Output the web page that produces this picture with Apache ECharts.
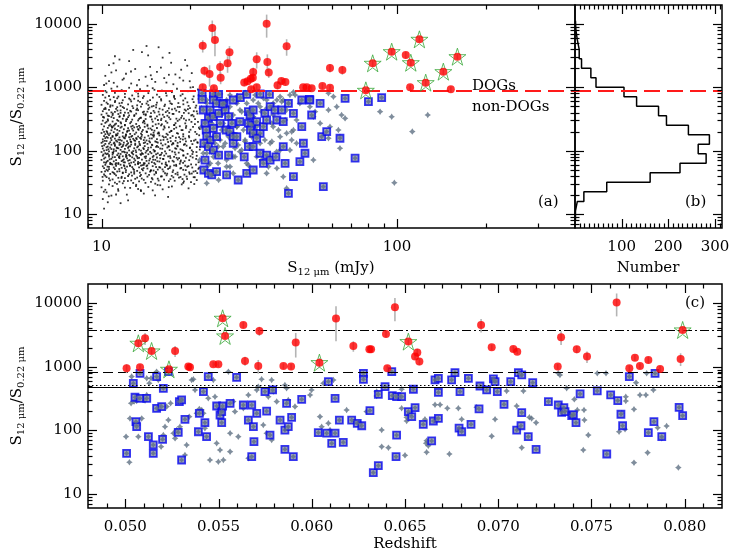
<!DOCTYPE html>
<html>
<head>
<meta charset="utf-8">
<script src="https://cdn.jsdelivr.net/npm/echarts@6/dist/echarts.min.js"></script>
<style>
html, body { margin: 0; padding: 0; background: #fff; }
#main { width: 736px; height: 552px; }
</style>
</head>
<body>
<div id="main"></div>
<script>
// faint sample (black dots), [S12 mJy, ratio]
const faintDots = [
[10.2,12.1],[11.6,14.8],[10.5,15.3],
[10.1,17.2],[10.8,19.5],[12.3,16.4],[13.9,21.0],[11.2,20.3],[16.8,18.6],[10.4,21.9],
[10.3,24.1],[10.9,27.6],[11.4,23.2],[11.8,30.5],[12.5,25.8],[13.1,28.9],[13.6,22.9],[14.4,26.7],[15.2,30.1],[16.1,24.5],[17.3,27.2],[18.9,31.0],[10.6,29.3],[12.0,26.1],[14.9,23.6],[19.7,25.4],[11.1,31.3],[13.3,24.8],[15.8,28.4],[20.6,29.7],[10.0,26.4],[12.8,30.9],
[10.1,33.5],[10.4,38.2],[10.7,42.9],[10.9,35.1],[11.2,40.6],[11.5,32.4],[11.8,44.1],[12.0,36.7],[12.3,39.8],[12.6,33.9],[12.9,43.2],[13.2,37.5],[13.6,41.4],[13.9,34.6],[14.3,38.9],[14.7,32.2],[15.1,42.0],[15.5,36.1],[16.0,39.3],[16.4,44.0],[16.9,33.0],[17.5,37.9],[18.1,41.7],[18.8,35.6],[19.4,39.0],[20.2,43.5],[21.0,34.3],[10.3,40.1],[10.6,36.4],[11.0,44.5],[11.4,37.2],[11.9,33.1],[12.4,42.3],[13.0,35.9],[13.5,39.6],[14.1,43.8],[14.8,36.9],[15.6,33.7],[16.6,40.8],[17.8,43.0],[19.0,32.7],[20.5,38.1],[10.2,42.0],[11.7,38.6],[13.4,32.8],[15.3,44.3],[17.1,35.4],[18.5,38.4],
[10.0,46.2],[10.2,52.8],[10.3,59.7],[10.5,48.1],[10.6,55.3],[10.8,62.0],[10.9,45.7],[11.1,50.9],[11.2,57.8],[11.4,61.5],[11.5,47.3],[11.7,53.6],[11.9,58.9],[12.1,49.4],[12.2,56.0],[12.4,62.6],[12.6,45.3],[12.8,51.7],[13.0,60.3],[13.2,47.9],[13.4,54.5],[13.6,58.1],[13.8,49.0],[14.0,62.9],[14.3,52.2],[14.6,46.5],[14.9,56.9],[15.2,61.0],[15.5,50.3],[15.8,54.0],[16.2,47.0],[16.6,59.2],[17.0,53.1],[17.4,45.9],[17.9,57.3],[18.4,62.2],[18.9,49.8],[19.5,55.6],[20.1,60.7],[20.8,47.6],[21.4,53.9],[10.1,56.6],[10.4,49.9],[10.7,61.2],[11.0,54.2],[11.3,46.8],[11.6,60.0],[12.0,52.5],[12.5,58.4],[12.9,46.0],[13.3,61.8],[13.7,51.2],[14.2,57.0],[14.7,49.2],[15.3,55.1],[16.0,62.4],[16.8,51.5],[17.6,58.7],[18.6,53.3],[19.8,45.5],[10.6,51.1],[11.8,45.1],[12.7,55.0],[13.9,59.8],[15.0,48.5],[16.4,54.8],[19.2,58.0],
[10.0,71.5],[10.1,83.2],[10.2,65.4],[10.3,77.9],[10.4,88.1],[10.5,69.0],[10.6,80.6],[10.7,64.2],[10.8,74.3],[10.9,86.7],[11.0,67.8],[11.1,79.1],[11.2,71.0],[11.3,84.9],[11.4,63.9],[11.5,76.2],[11.6,88.6],[11.7,68.4],[11.8,81.5],[11.9,72.8],[12.0,65.1],[12.1,86.0],[12.2,75.4],[12.3,69.7],[12.5,82.3],[12.6,64.6],[12.7,78.5],[12.8,87.4],[13.0,70.2],[13.1,83.8],[13.3,66.3],[13.4,76.8],[13.6,85.5],[13.7,72.1],[13.9,63.5],[14.0,80.0],[14.2,68.9],[14.4,87.9],[14.6,74.9],[14.8,65.8],[15.0,82.8],[15.2,71.6],[15.4,78.0],[15.7,67.2],[15.9,86.3],[16.2,73.5],[16.5,64.9],[16.8,81.1],[17.1,76.6],[17.4,69.3],[17.8,87.0],[18.1,72.5],[18.5,66.7],[18.9,84.0],[19.3,77.3],[19.8,70.8],[20.3,88.4],[20.9,74.0],[21.3,65.6],[10.2,74.6],[10.4,67.0],[10.6,85.1],[10.9,78.8],[11.2,63.3],[11.5,82.0],[11.8,70.5],[12.1,79.7],[12.4,85.8],[12.9,74.7],[13.2,80.3],[13.5,64.0],[13.8,88.8],[14.1,76.0],[14.5,70.0],[14.9,79.4],[15.3,87.6],[15.8,75.7],[16.3,83.5],[16.9,67.6],[17.6,79.9],[18.3,76.3],[19.1,68.1],[20.0,81.7],[21.0,83.0],
[10.0,95.2],[10.1,108],[10.2,121],[10.3,91.0],[10.4,102],[10.5,116],[10.6,97.1],[10.7,112],[10.8,124],[10.9,93.4],[11.0,105],[11.1,119],[11.2,99.6],[11.3,110],[11.4,90.2],[11.5,123],[11.6,103],[11.7,114],[11.9,96.4],[12.0,107],[12.1,120],[12.2,92.6],[12.4,101],[12.5,117],[12.6,125],[12.8,98.3],[12.9,109],[13.1,94.7],[13.2,113],[13.4,104],[13.5,122],[13.7,91.7],[13.9,106],[14.0,118],[14.2,99.0],[14.4,111],[14.6,95.8],[14.8,124],[15.0,103],[15.3,115],[15.5,90.6],[15.8,108],[16.1,121],[16.4,97.6],[16.7,112],[17.0,102],[17.3,125],[17.7,93.9],[18.1,117],[18.5,105],[18.9,99.3],[19.4,120],[19.9,110],[20.4,96.0],[21.0,114],[21.5,104],[10.2,100],[10.5,89.8],[10.8,106],[11.1,125],[11.4,109],[11.8,118],[12.3,111],[12.7,91.2],[13.0,123],[13.6,100],[14.1,93.0],[14.7,113],[15.4,119],[16.0,92.3],[16.9,116],[17.9,107],[19.0,124],[20.2,101],[10.4,113],[11.0,97.8],[12.0,94.0],[13.3,117],[15.1,96.8],
[10.0,133],[10.1,151],[10.2,170],[10.3,128],[10.4,142],[10.5,160],[10.6,176],[10.7,136],[10.8,147],[10.9,165],[11.0,130],[11.1,155],[11.2,173],[11.3,139],[11.4,149],[11.5,162],[11.6,127],[11.7,144],[11.8,168],[11.9,134],[12.0,157],[12.1,175],[12.2,141],[12.3,131],[12.4,163],[12.5,150],[12.6,137],[12.7,171],[12.9,146],[13.0,129],[13.1,158],[13.3,167],[13.4,138],[13.6,153],[13.7,177],[13.9,132],[14.0,161],[14.2,145],[14.4,172],[14.6,135],[14.8,156],[15.0,166],[15.2,140],[15.4,152],[15.7,174],[15.9,130],[16.2,148],[16.5,164],[16.8,137],[17.1,159],[17.4,170],[17.8,143],[18.1,133],[18.5,154],[18.9,168],[19.3,140],[19.8,162],[20.3,127],[20.8,149],[21.4,175],[10.1,139],[10.3,158],[10.6,129],[10.9,171],[11.2,144],[11.5,133],[11.9,160],[12.2,126],[12.6,166],[13.0,143],[13.5,159],[13.9,147],[14.3,128],[14.9,176],[15.5,134],[16.1,169],[16.7,151],[17.5,129],[18.3,164],[19.2,155],[20.1,142],[21.1,136],[10.4,165],[11.3,176],[12.8,154],[14.5,141],
[10.0,190],[10.1,215],[10.2,241],[10.3,182],[10.4,203],[10.5,229],[10.6,248],[10.7,187],[10.8,210],[10.9,236],[11.0,196],[11.1,222],[11.2,180],[11.4,245],[11.5,205],[11.6,231],[11.8,192],[11.9,218],[12.0,250],[12.2,199],[12.3,226],[12.5,184],[12.6,240],[12.8,208],[12.9,233],[13.1,193],[13.3,219],[13.4,246],[13.6,186],[13.8,212],[14.0,238],[14.2,201],[14.4,224],[14.7,181],[14.9,244],[15.1,207],[15.4,228],[15.6,194],[15.9,251],[16.2,216],[16.6,185],[16.9,234],[17.2,204],[17.6,221],[18.0,189],[18.4,243],[18.8,211],[19.3,230],[19.8,197],[20.4,238],[21.0,183],[21.5,220],[10.2,198],[10.5,185],[10.8,244],[11.3,213],[11.7,239],[12.1,181],[12.7,222],[13.2,238],[13.7,200],[14.3,246],[14.8,213],[15.5,187],[16.3,242],[17.0,196],[17.9,232],[18.9,182],[20.0,214],[11.0,248],[12.4,208],[13.5,230],[15.0,192],
[10.0,262],[10.1,298],[10.2,334],[10.3,275],[10.5,312],[10.6,350],[10.7,258],[10.9,289],[11.0,327],[11.2,268],[11.3,305],[11.5,342],[11.6,281],[11.8,319],[12.0,255],[12.1,293],[12.3,338],[12.5,271],[12.7,309],[12.9,352],[13.1,264],[13.3,300],[13.6,331],[13.8,279],[14.1,316],[14.3,257],[14.6,345],[14.9,287],[15.2,322],[15.6,266],[15.9,303],[16.3,340],[16.7,276],[17.1,314],[17.6,253],[18.1,295],[18.6,330],[19.2,270],[19.8,308],[20.5,348],[21.2,284],[10.4,286],[10.8,340],[11.4,295],[11.9,353],[12.6,285],[13.4,318],[14.0,269],[14.8,311],[15.4,349],[16.5,292],[17.8,272],[19.0,321],[20.7,262],[11.1,259],[12.2,314],[13.9,296],[16.0,261],
[10.0,371],[10.1,420],[10.3,475],[10.4,388],[10.6,441],[10.7,493],[10.9,365],[11.1,410],[11.2,458],[11.4,379],[11.6,432],[11.8,488],[12.0,398],[12.2,449],[12.4,360],[12.6,415],[12.8,470],[13.1,385],[13.3,436],[13.6,497],[13.8,404],[14.1,362],[14.4,455],[14.7,391],[15.0,425],[15.3,482],[15.7,372],[16.1,444],[16.5,406],[16.9,466],[17.4,381],[17.9,430],[18.4,490],[19.0,395],[19.6,452],[20.3,368],[21.0,418],[10.2,452],[10.5,358],[10.8,402],[11.3,486],[11.9,366],[12.5,426],[13.2,463],[13.9,376],[14.8,498],[15.6,412],[16.7,356],[17.7,462],[19.3,428],[20.8,479],[11.6,395],[14.3,413],
[10.0,530],[10.2,612],[10.3,690],[10.5,548],[10.7,640],[10.9,515],[11.1,585],[11.3,672],[11.5,560],[11.8,625],[12.0,702],[12.3,540],[12.6,600],[12.9,660],[13.2,520],[13.5,590],[13.8,680],[14.2,555],[14.6,630],[15.0,508],[15.4,575],[15.9,650],[16.4,535],[17.0,605],[17.6,695],[18.2,565],[18.9,620],[19.7,510],[20.5,585],[21.3,655],[10.4,575],[11.0,700],[11.6,510],[12.4,665],[13.3,615],[14.4,525],[15.7,705],[17.3,545],[19.2,670],
[10.1,760],[10.3,880],[10.6,730],[10.8,955],[11.1,820],[11.4,715],[11.7,905],[12.0,790],[12.4,985],[12.7,745],[13.1,860],[13.5,935],[13.9,725],[14.4,810],[14.9,970],[15.4,770],[16.0,890],[16.6,740],[17.3,840],[18.0,950],[18.8,780],[19.6,870],[20.5,720],[21.2,925],[10.4,835],[11.9,870],[13.3,795],[15.1,915],[17.6,730],[20.0,995],
[10.2,1090],[10.6,1250],[11.3,1030],[11.9,1380],[12.6,1150],[13.4,1310],[14.3,1060],[15.2,1220],[16.3,1400],[17.5,1120],[18.9,1280],[20.4,1010],[11.0,1180],[14.8,1350],
[10.3,1520],[11.2,1850],[12.1,1640],[13.0,1950],[14.1,1470],[15.4,1760],[16.9,1580],[18.6,1900],[20.2,1680],[10.8,1720],
[10.6,2250],[12.4,2600],[14.6,2100],[17.2,2450],[11.5,2750],[19.5,2200],
[11.1,3100],[13.7,3600],[16.1,2950],[12.8,3900],[14.2,4500],[15.6,4300],
[10.05,118],[10.15,87],[10.25,143],[10.35,64],[10.45,196],[10.55,105],[10.65,73],[10.75,158],[10.85,231],[10.95,92],
[11.05,134],[11.15,61],[11.25,112],[11.35,187],[11.45,79],[11.55,148],[11.65,270],[11.75,96],[11.85,124],[11.95,57],
[12.05,168],[12.15,83],[12.25,205],[12.35,116],[12.45,71],[12.55,139],[12.65,94],[12.75,247],[12.85,66],[12.95,182],
[13.05,101],[13.15,152],[13.25,76],[13.35,213],[13.45,128],[13.55,88],[13.65,166],[13.75,59],[13.85,110],[13.95,290],
[14.05,135],[14.15,81],[14.25,197],[14.35,103],[14.45,63],[14.55,156],[14.65,224],[14.75,91],[14.85,122],[14.95,72],
[15.05,175],[15.15,99],[15.25,260],[15.35,137],[15.45,68],[15.55,114],[15.65,188],[15.75,85],[15.85,146],[15.95,320],
[16.05,107],[16.15,74],[16.25,162],[16.35,230],[16.45,126],[16.55,90],[16.65,58],[16.75,178],[16.85,118],[16.95,395],
[17.05,82],[17.15,141],[17.25,206],[17.35,97],[17.45,131],[17.55,67],[17.65,255],[17.75,109],[17.85,160],[17.95,77],
[18.05,120],[18.15,186],[18.25,93],[18.35,310],[18.45,138],[18.55,70],[18.65,211],[18.75,102],[18.85,150],[18.95,84],
[19.15,127],[19.35,245],[19.55,89],[19.75,170],[19.95,112],[20.15,285],[20.35,78],[20.55,144],[20.75,198],[20.95,95],
[21.15,133],[21.35,230],[21.55,115],[10.12,340],[10.32,455],[10.52,298],[10.72,520],[10.92,385],[11.12,610],[11.32,430],
[11.52,350],[11.72,570],[11.92,470],[12.12,310],[12.32,395],[12.52,640],[12.72,505],[12.92,365],[13.12,440],[13.32,720],
[13.52,330],[13.72,545],[13.92,415],[14.12,375],[14.32,600],[14.52,480],[14.72,345],[14.92,690],[15.12,400],[15.32,530],
[15.52,305],[15.72,460],[15.92,620],[16.12,370],[16.32,505],[16.52,810],[16.72,425],[16.92,335],[17.12,560],[17.32,450],
[17.52,380],[17.72,660],[17.92,320],[18.12,490],[18.32,410],[18.52,740],[18.72,355],[18.92,540],[19.12,445],[19.32,300],
[19.52,580],[19.72,390],[19.92,470],[20.12,360],[20.32,650],[20.52,420],[20.72,315],[20.92,515],[21.12,385],[21.32,760],
[10.08,38.5],[10.28,47.2],[10.48,55.8],[10.68,34.0],[10.88,60.4],[11.08,42.7],[11.28,29.8],[11.48,51.3],[11.68,37.0],[11.88,65.5],
[12.08,45.8],[12.28,33.2],[12.48,57.5],[12.68,40.3],[12.88,49.6],[13.08,27.5],[13.28,62.7],[13.48,44.9],[13.68,36.3],[13.88,53.0],
[14.08,31.0],[14.28,58.6],[14.48,41.5],[14.68,48.0],[14.88,35.2],[15.08,63.8],[15.28,46.3],[15.48,28.7],[15.68,55.0],[15.88,39.1],
[16.08,50.6],[16.28,34.8],[16.48,61.0],[16.68,43.3],[16.88,26.5],[17.08,56.2],[17.28,40.0],[17.48,48.9],[17.68,33.5],[17.88,59.8],
[18.08,45.0],[18.28,37.6],[18.48,52.4],[18.68,29.3],[18.88,64.0],[19.08,41.8],[19.28,49.3],[19.48,35.7],[19.68,57.0],[19.88,43.0],
[20.08,31.8],[20.28,54.1],[20.48,46.7],[20.68,38.0],[20.88,60.0],[21.08,44.2],[21.28,51.7],[10.18,22.5],[10.58,19.0],[11.38,24.6],
[12.18,20.2],[13.58,23.8],[15.18,19.6],[10.38,1150],[11.78,1320],[13.18,1080],[14.68,1550],[16.58,1190],[18.38,1420],[19.88,1250],
[12.58,1780],[15.88,2050],[17.78,1600],[10.98,2400],[14.38,3200],[16.98,3500],[19.18,2700]
];

// panel (a): non-DOGs (grey), subset in blue squares, DOGs (red, [S, ratio, error]), starred DOGs
const nonDogsA = [
[22.7,631],[25.2,785],[27.2,757],[28.8,731],[30.6,824],[35.3,671],[40.2,713],[43.4,757],[44.6,840],[58.6,805],
[60.9,713],[50.7,495],[58.6,439],[62.5,495],[64.9,366],[63.3,212],[64.1,166],[64.1,109],[66.7,324],[58.6,157],
[52.1,71],[42.3,25.4],[41.2,38.8],[39.2,52.6],[36.7,55.9],[33.5,80],[29.4,96.4],[27.9,80],[24.9,34.4],[22.7,30.5],
[27.2,55.9],[32.6,344],[30.2,212],[28.7,239],[25.2,147],[25.8,116],[24.2,131],[23.9,80],[26.5,71],[28.3,109],
[30.6,147],[38.1,239],[42.3,188],[44.6,212],[40.2,166],[43.4,102],[45.7,131],[52.1,344],[54.9,270],[59.3,239],
[22.7,91],[23.3,63],[22.1,91],[27.9,366],[29.4,439],[32.6,631],[36.2,631],[39.2,631],[42.3,439],[46.9,559],
[52.8,413],[26.5,55.9],[31.0,63],[36.2,43.8],[40.2,102],[27.9,43.8],[34.4,131],[37.2,131],[45.7,305],[24.5,239],
[25.5,366],[38.1,366],[31.0,559],[41.2,631],[34.4,495],[28.7,559],[27.2,495],
[87.6,413],[95.9,344],[112.6,200],[127,366],[97.9,31.2],
[21.8,467],[22.7,560],[23.3,439],[23.0,344],[22.4,287],[21.8,239],[23.6,270],[24.2,324],[25.2,389],[24.8,560],
[26.2,467],[26.5,631],[25.8,270],[26.9,239],[27.6,305],[25.5,212],[24.2,177],[23.3,139],[22.4,116],[23.6,96],
[24.8,116],[26.2,131],[26.9,166],[27.9,188],[28.7,239],[29.0,123],[29.8,102],[28.3,80],[30.6,139],[32.2,166],
[33.5,239],[32.6,344],[34.8,413],[36.2,467],[38.1,560],[40.7,594],[42.9,560],[45.2,757],[37.7,270],[39.7,212],
[41.8,305],[44.0,199],[35.7,147],[37.7,139],[39.1,96],[44.0,147],[34.8,71],[31.4,59],[24.8,63],[23.0,59],
[21.5,71],[29.0,631],[30.6,805],[33.1,757],[33.9,560],[29.8,413],[31.4,324]
];
const squaresA = [
[21.9,805],[21.9,647],[23.9,785],[24.9,776],[27.9,631],[29.5,688],[31.0,776],[34.4,785],[37.0,776],[47.6,631],
[50.5,647],[54.9,559],[66.7,671],[80.0,594],[88.7,687],
[22.1,439],[23.3,439],[23.0,324],[22.4,270],[23.9,344],[24.9,389],[25.2,270],[23.9,225],[22.6,212],[22.7,170],
[23.3,147],[24.5,166],[26.0,559],[26.2,439],[26.9,344],[27.6,270],[26.4,212],[27.2,200],[27.9,166],[29.4,287],
[31.4,413],[31.8,366],[32.6,439],[31.4,270],[32.2,254],[33.5,287],[31.9,212],[32.6,188],[34.4,188],[35.3,239],
[35.7,389],[36.2,305],[37.2,495],[38.6,439],[39.2,305],[40.7,439],[41.2,287],[42.9,559],[44.6,389],[47.6,239],
[48.2,131],[48.8,91],[50.7,631],[51.4,366],[55.6,166],[57.8,200],[64.1,157],[22.2,131],[23.0,116],[23.9,102],
[24.9,85],[22.4,71],[22.2,49.5],[23.0,43.8],[23.6,41.3],[24.5,46.6],[26.5,41.3],[29.0,34.4],[30.4,80],[31.4,116],
[32.6,116],[33.5,157],[34.4,91],[35.3,63],[36.2,85],[37.2,71],[38.9,80],[41.2,116],[41.8,63],[42.9,21.2],
[44.6,38.8],[46.9,67],[56.3,27],[72.1,76],[26.9,85],[27.9,131],[28.7,166],[31.0,43.8],[32.6,49.5],[23.9,631],
[24.5,559],[25.7,546]
];
const dogsA = [
[22.0,4550,1000],[22.3,1830,300],[23.2,1630,600],[23.7,8670,2700],[24.2,5600,2500],[25.2,2090,500],[25.3,1420,300],
[26.7,2400,700],[27.1,3580,900],[22.0,1000,120],[24.0,966,100],[30.4,1190,150],[31.2,1250,150],[32.0,1370,200],
[32.5,1420,200],[32.6,1750,300],[33.5,2780,800],[33.5,1000,120],[32.1,930,100],[36.2,10100,4000],[36.4,2520,800],
[36.8,1710,300],[39.4,1076,150],[40.6,1260,150],[41.9,1215,150],[42.3,4460,1300],[48.1,1000,100],[49.5,1000,100],
[51.4,966,100],[55.9,1050,100],[59.3,2020,300],[59.3,986,100],[65.3,1880,300],[107,3240,400],[110.7,1000,100],
[152,930,100]
];
const starsA = [
[78.4,897,80],[82.7,2400,300],[95.9,3660,400],[111.3,2450,300],[119,5740,600],[125,1186,150],[143.4,1770,200],[160,3050,300]
];
const dogLimit = 890;

// panel (b): histogram of the ratio
const histEdges = [7.94,11.2,15.8,22.4,31.6,44.7,63.1,89.1,126,178,251,355,501,708,1000,1413,1995,2818,3981,5623,7943,11220];
const histCounts = [1,5,19,68,161,225,281,264,288,243,196,179,132,105,45,34,14,9,5,2,1];

// panel (c): ratio against redshift
const nonDogsC = [
[0.05004,79.5],[0.05022,31.4],[0.05025,154],[0.05031,266],[0.05034,699],[0.05047,283],[0.05061,289],[0.0507,79.5],
[0.05088,154],[0.05106,293],[0.05115,360],[0.05115,658],[0.05129,549],[0.05138,658],[0.05168,837],[0.05177,619],
[0.05192,55.3],[0.05204,84],[0.05213,114],[0.05222,236],[0.05231,145],[0.05243,266],[0.05258,90],[0.05267,74.8],
[0.05276,101],[0.05293,114],[0.0532,40.9],[0.05329,58.8],[0.05343,164],[0.05356,619],[0.05365,634],[0.05374,431],
[0.05383,185],[0.05397,217],[0.0541,209],[0.05419,185],[0.05427,108],[0.05445,319],[0.05454,34.1],[0.05472,619],
[0.05481,338],[0.0549,62.5],[0.05499,32.1],[0.05508,49],[0.05526,34.1],[0.05553,837],[0.05562,90],[0.05562,46.2],
[0.05579,283],[0.05588,197],[0.05606,79.5],[0.05633,222],[0.0566,360],[0.0566,36.3],[0.05705,431],[0.05713,486],
[0.05731,634],[0.0574,121],[0.05758,90],[0.05767,338],[0.05785,619],[0.05785,70.5],[0.05794,406],[0.05812,283],
[0.05856,517],[0.05865,458],[0.05874,300],[0.0591,236],[0.05991,360],[0.05999,431],[0.06044,164],[0.06053,114],
[0.06062,549],[0.06089,129],[0.06098,101],[0.06116,619],[0.06187,209],[0.06232,137],[0.0625,129],[0.06259,129],
[0.06294,197],
[0.06348,406],[0.06348,347],[0.06375,101],[0.06375,55.3],[0.06411,53.4],[0.06482,222],[0.06482,442],[0.06509,160],
[0.06509,140],[0.065,40.4],[0.06607,149],[0.06613,62.5],[0.06616,45.1],[0.06625,57.4],[0.06616,68.8],[0.06661,253],
[0.06688,253],[0.06727,222],[0.06738,42.4],[0.06786,222],[0.06804,149],[0.06884,230],[0.06965,81],[0.06983,149],
[0.07045,416],[0.07099,241],[0.07126,53.4],[0.07135,416],[0.07167,160],[0.07179,153],[0.07203,132],[0.07322,788],
[0.07331,742],[0.07367,458],[0.07408,307],[0.07424,209],[0.0746,209],[0.07462,145],[0.07483,84],[0.07456,49],
[0.07531,788],[0.07578,788],[0.07648,95],[0.07662,185],[0.0768,104],[0.07684,338],[0.07684,289],[0.07728,214],
[0.07728,31],[0.07739,562],[0.0776,360],[0.07792,360],[0.07801,44.5],[0.07832,431],[0.07855,110],[0.07877,74.8],
[0.07903,117],[0.07966,25.9],[0.07796,788]
];
const squaresC = [
[0.05007,43.5],[0.05043,549],[0.05079,788],[0.05052,331],[0.05057,137],[0.05061,114],[0.05079,319],[0.05115,319],
[0.05124,79.5],[0.0515,58.8],[0.0515,43.5],[0.05168,222],[0.05168,699],[0.05195,236],[0.052,72.2],[0.05204,458],
[0.05231,837],[0.05284,93],[0.0529,283],[0.05302,34.1],[0.05302,300],[0.0532,149],[0.05392,95],[0.05397,185],
[0.05427,132],[0.05436,79.5],[0.05419,406],[0.05445,699],[0.0549,241],[0.05508,174],[0.05517,132],[0.05517,197],
[0.05522,241],[0.05562,266],[0.05597,682],[0.05633,250],[0.0566,145],[0.05678,250],[0.05687,114],[0.0569,66.3],
[0.05678,38.5],[0.05705,185],[0.05749,406],[0.05758,201],[0.05776,84],[0.0579,431],[0.0583,145],[0.05856,50.2],
[0.05856,101],[0.05865,266],[0.05874,114],[0.05892,160],[0.05901,38.5],[0.05946,307],[0.06035,92],[0.0608,90],
[0.06089,583],[0.06107,62.5],[0.06125,319],[0.06125,90],[0.06148,145],[0.06169,64.7],[0.06214,145],[0.06244,129],
[0.06268,118],[0.06277,788],[0.06277,634],
[0.06312,204],[0.0633,21.6],[0.06357,27.8],[0.06357,368],[0.06393,486],[0.06429,837],[0.06432,351],[0.06455,338],
[0.06482,338],[0.06455,84],[0.06452,38.5],[0.06518,197],[0.06536,164],[0.06554,227],[0.06545,442],[0.06598,124],
[0.06643,68],[0.06652,140],[0.06661,619],[0.06679,658],[0.06679,396],[0.06679,154],[0.0675,619],[0.06768,807],
[0.0679,108],[0.06795,406],[0.06804,95],[0.0684,658],[0.06854,124],[0.06897,217],[0.06902,498],[0.06938,431],
[0.06974,642],[0.06983,583],[0.06995,406],[0.07031,256],[0.07067,583],[0.07099,101],[0.07108,807],[0.07122,118],
[0.07126,742],[0.07126,190],[0.07161,79.5],[0.07185,562],[0.07203,50.2],[0.07269,283],[0.07322,250],[0.0734,192],
[0.07352,227],[0.07358,197],[0.07394,170],[0.07403,176],[0.07417,132],[0.07439,373],[0.07531,416],[0.07582,42.4],
[0.07603,360],[0.07641,293],[0.07658,179],[0.07667,118],[0.07703,699],[0.07805,92],[0.07835,137],[0.07841,788],
[0.07877,79.5],[0.0797,230],[0.07989,170]
];
const dogsC = [
[0.05007,945,150],[0.05079,980,100],[0.05106,2800,600],[0.05267,1770,350],[0.05338,1004,100],[0.05347,980,100],
[0.05472,1092,100],[0.05499,1092,100],[0.05633,4540,500],[0.05642,1233,200],[0.05719,3650,600],[0.05713,1028,250],
[0.05848,1028,100],[0.05889,1004,100],[0.05914,2395,1000],[0.0613,5710,3200],[0.06223,2120,400],[0.06309,1880,200],
[0.06446,8610,3400],[0.06318,1880,200],[0.06398,3276,400],[0.06405,945,100],[0.06554,1442,150],[0.06566,1667,250],
[0.06577,1203,150],[0.06908,4540,1100],[0.06965,2021,200],[0.07081,1903,200],[0.07102,1727,150],[0.07319,1004,100],
[0.07337,2904,700],[0.07421,1880,250],[0.07476,1442,300],[0.07635,10190,4000],[0.07703,945,100],[0.07733,1390,150],
[0.0776,1028,100],[0.07805,1277,150],[0.07868,922,100],[0.07978,1325,300]
];
const starsC = [
[0.0507,2337,300],[0.05141,1770,200],[0.05234,911,100],[0.05522,5780,500],[0.05535,3050,300],[0.06041,1160,200],
[0.06518,2483,300],[0.07989,3787,400]
];
const levelDashDot = 3700;
const levelDashed = 807;
const levelDotted = 516;
const levelSolid = 474;

// axis ticks and labels
const ratioTicks = [10, 100, 1000, 10000];
const fluxTicks = [10, 100];
const countTicks = [100, 200, 300];
const zTicks = [0.050, 0.055, 0.060, 0.065, 0.070, 0.075, 0.080];

const FONT = 'DejaVu Serif';
const GREY = '#5f7083';
const chart = echarts.init(document.getElementById('main'));

function logMinor(lo, hi) {
  const out = [];
  for (let d = 1; d <= 10000; d *= 10) {
    for (let m = 2; m <= 9; m++) {
      const v = m * d;
      if (v > lo && v < hi) out.push(v);
    }
  }
  return out;
}
function linMinor(lo, hi, step, majors) {
  const out = [];
  const n = Math.round((hi - lo) / step);
  for (let i = 0; i <= n; i++) {
    const v = +(lo + i * step).toFixed(6);
    if (v > lo && v < hi && !majors.some(m => Math.abs(m - v) < step / 10)) out.push(v);
  }
  return out;
}

// ticks on all four sides of a panel
function tickSeries(gi, xMaj, xMin, yMaj, yMin) {
  return {
    type: 'custom', xAxisIndex: gi, yAxisIndex: gi, silent: true, z: 20, clip: false,
    data: [[xMaj[0], yMaj[0]]],
    renderItem(params, api) {
      const cs = params.coordSys;
      const kids = [];
      const seg = (x1, y1, x2, y2) => kids.push({
        type: 'line', shape: { x1, y1, x2, y2 }, style: { stroke: '#000', lineWidth: 1.2 }
      });
      const bottom = cs.y + cs.height, right = cs.x + cs.width;
      const xs = (list, len) => list.forEach(v => {
        const p = Math.round(api.coord([v, yMaj[0]])[0]) + 0.5;
        seg(p, bottom, p, bottom - len); seg(p, cs.y, p, cs.y + len);
      });
      const ys = (list, len) => list.forEach(v => {
        const p = Math.round(api.coord([xMaj[0], v])[1]) + 0.5;
        seg(cs.x, p, cs.x + len, p); seg(right, p, right - len, p);
      });
      xs(xMaj, 9); xs(xMin, 4.5); ys(yMaj, 9); ys(yMin, 4.5);
      return { type: 'group', children: kids };
    }
  };
}

function errorBars(gi, pts) {
  return {
    type: 'custom', xAxisIndex: gi, yAxisIndex: gi, silent: true, z: 5,
    data: pts.map(p => [p[0], p[1] - p[2], p[1] + p[2]]),
    encode: { x: 0, y: [1, 2] },
    renderItem(params, api) {
      const lo = api.coord([api.value(0), api.value(1)]);
      const hi = api.coord([api.value(0), api.value(2)]);
      return { type: 'line', shape: { x1: lo[0], y1: lo[1], x2: hi[0], y2: hi[1] },
               style: { stroke: '#b4b4b4', lineWidth: 1.6 } };
    }
  };
}

const greyStar = 'path://M0,-10 L4,-4 L10,0 L4,4 L0,10 L-4,4 L-10,0 L-4,-4 Z';
const fiveStar = 'path://M0,-10 L2.245,-3.09 L9.51,-3.09 L3.633,1.18 L5.88,8.09 L0,3.82 L-5.88,8.09 L-3.633,1.18 L-9.51,-3.09 L-2.245,-3.09 Z';

function scatter(gi, data, symbol, size, style, z) {
  return { type: 'scatter', xAxisIndex: gi, yAxisIndex: gi, data, symbol, symbolSize: size,
           itemStyle: style, z, silent: true, animation: false };
}
function hline(gi, value, type, color, width) {
  return {
    type: 'line', xAxisIndex: gi, yAxisIndex: gi, data: [], silent: true,
    markLine: { silent: true, symbol: 'none', label: { show: false }, animation: false,
                lineStyle: { color, width, type }, data: [{ yAxis: value }] }
  };
}

const histPath = [];
histCounts.forEach((c, i) => { histPath.push([c, histEdges[i]]); histPath.push([c, histEdges[i + 1]]); });

const label = { fontFamily: FONT, fontSize: 15, color: '#000' };
const noAxis = { axisLine: { show: false }, axisTick: { show: false }, splitLine: { show: false } };
const squareStyle = { color: '#7d86a6', borderColor: '#0808f0', borderWidth: 1.8 };
const starStyle = { color: 'rgba(255,255,255,0)', borderColor: '#3aa83a', borderWidth: 1 };

const yMinor = logMinor(6, 20000);
const T = (x, y, text) => ({ type: 'text', x, y, silent: true,
  style: { text, font: '15px ' + FONT, fill: '#000', align: 'left', verticalAlign: 'middle' } });
const rich = {
  m: { fontFamily: FONT, fontSize: 15, lineHeight: 18 },
  s: { fontFamily: FONT, fontSize: 10, lineHeight: 10, verticalAlign: 'bottom' }
};

chart.setOption({
  animation: false,
  grid: [
    { left: 88, top: 5, width: 487, height: 223, show: true, borderColor: '#000', borderWidth: 1.5 },
    { left: 575, top: 5, width: 147, height: 223, show: true, borderColor: '#000', borderWidth: 1.5 },
    { left: 88, top: 284, width: 634, height: 224, show: true, borderColor: '#000', borderWidth: 1.5 }
  ],
  xAxis: [
    Object.assign({ type: 'log', gridIndex: 0, min: 9, max: 400,
      axisLabel: Object.assign({ customValues: fluxTicks, margin: 12, formatter: v => String(Math.round(v)) }, label) }, noAxis),
    Object.assign({ type: 'value', gridIndex: 1, min: 0, max: 315,
      axisLabel: Object.assign({ customValues: countTicks, margin: 12, formatter: v => String(Math.round(v)) }, label) }, noAxis),
    Object.assign({ type: 'value', gridIndex: 2, min: 0.048, max: 0.082,
      axisLabel: Object.assign({ customValues: zTicks, margin: 12, formatter: v => v.toFixed(3) }, label) }, noAxis)
  ],
  yAxis: [
    Object.assign({ type: 'log', gridIndex: 0, min: 6, max: 20000,
      axisLabel: Object.assign({ customValues: ratioTicks, margin: 6, formatter: v => String(Math.round(v)) }, label) }, noAxis),
    Object.assign({ type: 'log', gridIndex: 1, min: 6, max: 20000, axisLabel: { show: false } }, noAxis),
    Object.assign({ type: 'log', gridIndex: 2, min: 6, max: 20000,
      axisLabel: Object.assign({ customValues: ratioTicks, margin: 6, formatter: v => String(Math.round(v)) }, label) }, noAxis)
  ],
  series: [
    // panel (a)
    scatter(0, faintDots, 'rect', 1.8, { color: '#000' }, 1),
    hline(0, dogLimit, [16, 7], '#ff1a1a', 2),
    scatter(0, nonDogsA, greyStar, 6.5, { color: GREY }, 2),
    scatter(0, squaresA, 'rect', 7, squareStyle, 3),
    scatter(0, squaresA, greyStar, 5.5, { color: GREY }, 4),
    errorBars(0, dogsA.concat(starsA)),
    scatter(0, starsA, fiveStar, 17, starStyle, 6),
    scatter(0, dogsA.concat(starsA), 'circle', 8, { color: '#ff0000' }, 7),
    tickSeries(0, fluxTicks, [9, 20, 30, 40, 50, 60, 70, 80, 90, 200, 300], ratioTicks, yMinor),
    // panel (b)
    { type: 'line', xAxisIndex: 1, yAxisIndex: 1, data: histPath, showSymbol: false, silent: true,
      lineStyle: { color: '#000', width: 1.5 }, z: 3, animation: false },
    hline(1, dogLimit, [16, 7], '#ff1a1a', 2),
    tickSeries(1, countTicks, linMinor(0, 315, 10, countTicks), ratioTicks, yMinor),
    // panel (c)
    hline(2, levelDashDot, [9, 3, 2, 3], '#000', 1.2),
    hline(2, levelDashed, [10, 5], '#000', 1.2),
    hline(2, levelDotted, [1.5, 2.5], '#000', 1.2),
    hline(2, levelSolid, 'solid', '#000', 1.2),
    scatter(2, nonDogsC, greyStar, 6.5, { color: GREY }, 2),
    scatter(2, squaresC, 'rect', 7, squareStyle, 3),
    scatter(2, squaresC, greyStar, 5.5, { color: GREY }, 4),
    errorBars(2, dogsC.concat(starsC)),
    scatter(2, starsC, fiveStar, 17, starStyle, 6),
    scatter(2, dogsC.concat(starsC), 'circle', 8, { color: '#ff0000' }, 7),
    tickSeries(2, zTicks, linMinor(0.048, 0.082, 0.001, zTicks), ratioTicks, yMinor)
  ],
  graphic: [
    T(472, 86, 'DOGs'),
    T(472, 107, 'non-DOGs'),
    T(538, 202, '(a)'),
    T(685, 202, '(b)'),
    T(685, 303, '(c)'),
    { type: 'text', x: 331, y: 268, silent: true,
      style: { text: '{m|S}{s|12 μm}{m| (mJy)}', rich, align: 'center', verticalAlign: 'middle' } },
    { type: 'text', x: 648, y: 268, silent: true,
      style: { text: 'Number', font: '15px ' + FONT, fill: '#000', align: 'center', verticalAlign: 'middle' } },
    { type: 'text', x: 405, y: 544, silent: true,
      style: { text: 'Redshift', font: '15px ' + FONT, fill: '#000', align: 'center', verticalAlign: 'middle' } },
    { type: 'text', x: 17, y: 117, rotation: Math.PI / 2, silent: true,
      style: { text: '{m|S}{s|12 μm}{m|/S}{s|0.22 μm}', rich, align: 'center', verticalAlign: 'middle' } },
    { type: 'text', x: 17, y: 396, rotation: Math.PI / 2, silent: true,
      style: { text: '{m|S}{s|12 μm}{m|/S}{s|0.22 μm}', rich, align: 'center', verticalAlign: 'middle' } }
  ]
});
</script>
</body>
</html>
